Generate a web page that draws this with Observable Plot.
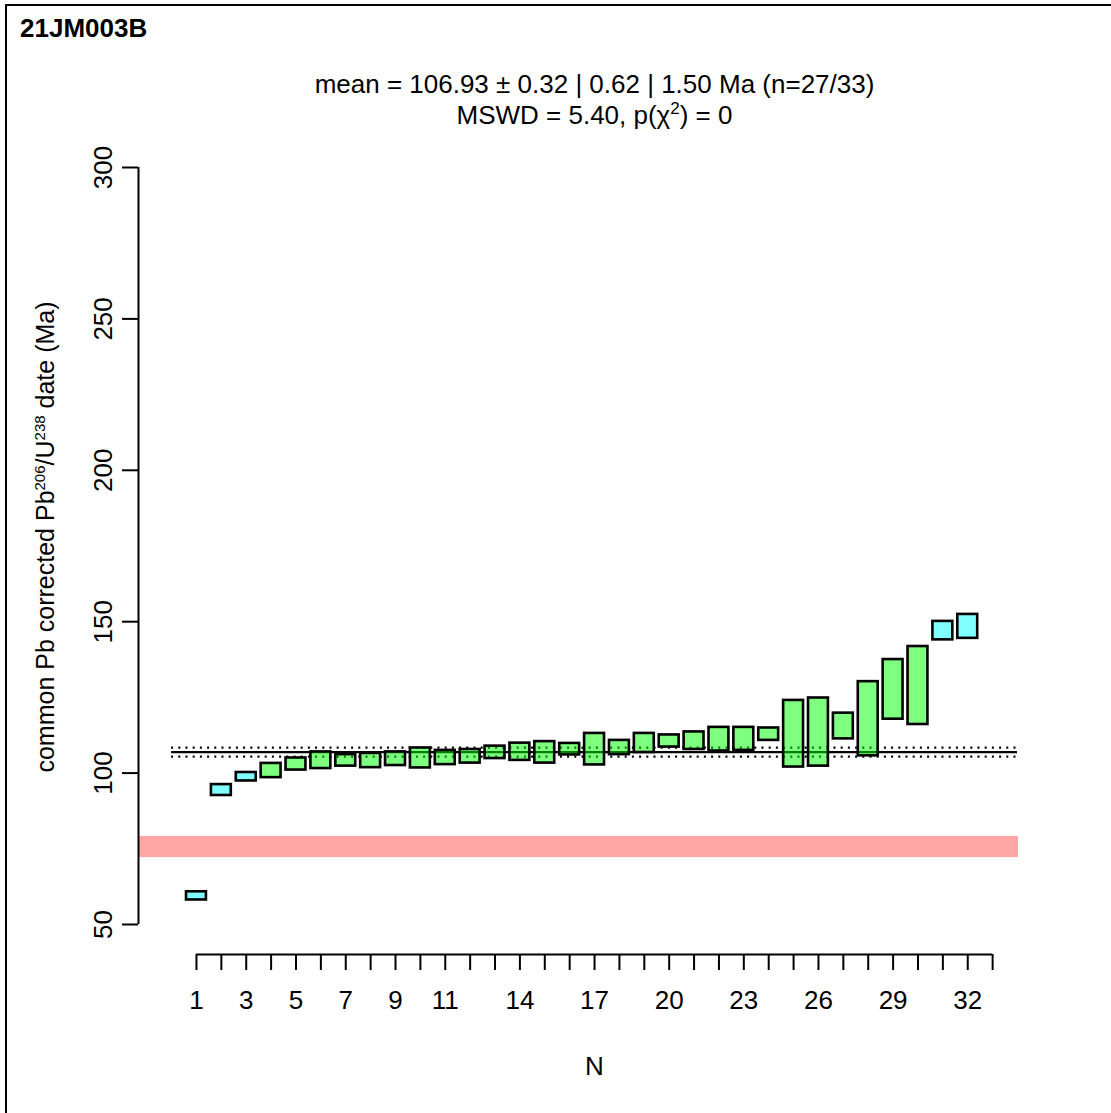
<!DOCTYPE html>
<html><head><meta charset="utf-8">
<script src="https://cdn.jsdelivr.net/npm/d3@7"></script>
<script src="https://cdn.jsdelivr.net/npm/@observablehq/plot@0.6"></script>
<style>body{margin:0;background:#fff} #chart{position:relative;width:1111px;height:1113px}</style>
</head><body><div id="chart"></div>
<script>
const sampleName = "21JM003B";
const aliquot = [1,2,3,4,5,6,7,8,9,10,11,12,13,14,15,16,17,18,19,20,21,22,23,24,25,26,27,28,29,30,31,32];
const dateLow  = [58.1, 92.6, 97.4, 98.5, 101.0, 101.5, 102.3, 101.8, 102.5, 101.7, 102.8, 103.3, 104.8, 104.2, 103.3, 106.0, 102.7, 106.1, 106.8, 108.6, 107.8, 107.3, 107.5, 110.8, 102.0, 102.3, 111.3, 105.7, 117.8, 116.05, 144.0, 144.5];
const dateHigh = [60.8, 96.2, 100.2, 103.2, 105.0, 107.0, 106.1, 106.5, 107.0, 108.3, 107.5, 107.8, 108.9, 109.9, 110.4, 109.8, 113.1, 110.8, 113.1, 112.6, 113.6, 115.1, 115.1, 114.9, 124.0, 124.8, 119.8, 130.2, 137.5, 141.8, 150.1, 152.4];
const rejected = [1, 2, 3, 31, 32];
const meanAge = 106.93;
const meanErr = 1.50;
const meanSpan = [0, 34];
const bandLow = [72.1];
const bandHigh = [79.1];
const xTicks = [1,2,3,4,5,6,7,8,9,10,11,12,13,14,15,16,17,18,19,20,21,22,23,24,25,26,27,28,29,30,31,32,33];
const xTickLabels = [1,3,5,7,9,11,14,17,20,23,26,29,32];
const yTicks = [50, 100, 150, 200, 250, 300];
const titleLine1 = "mean = 106.93 \u00B1 0.32 | 0.62 | 1.50 Ma (n=27/33)";
const xTitle = "N";

const rows = aliquot.map((n, i) => ({n, lo: dateLow[i], hi: dateHigh[i], fill: rejected.includes(n) ? "#00ffff" : "#00ff00"}));
const band = bandLow.map((lo, i) => ({lo, hi: bandHigh[i]}));
const xDomain = [-1.33, 34.04];
const yDomain = [40.09, 300];
const font = "'Liberation Sans', Arial, Helvetica, sans-serif";

const plot = Plot.plot({
  width: 1111, height: 1113,
  marginLeft: 138, marginRight: 93, marginTop: 167, marginBottom: 159,
  style: {fontFamily: font, fontSize: "26px", background: "white", color: "black", overflow: "visible"},
  x: {domain: xDomain, axis: null},
  y: {domain: yDomain, axis: null},
  color: {type: "identity"},
  marks: [
    Plot.rect(band, {y1: "lo", y2: "hi", fill: "#ffa6a6"}),
    Plot.ruleY([meanAge], {x1: meanSpan[0], x2: meanSpan[1], stroke: "black", strokeWidth: 2.2}),
    Plot.ruleY([meanAge - meanErr, meanAge + meanErr], {x1: meanSpan[0], x2: meanSpan[1], stroke: "black", strokeWidth: 2.2, strokeDasharray: "2,5.2"}),
    Plot.rect(rows, {x1: d => d.n - 0.4, x2: d => d.n + 0.4, y1: "lo", y2: "hi", fill: "fill", fillOpacity: 0.5, stroke: "black", strokeWidth: 2.6}),
    Plot.ruleY([yDomain[0]], {x1: xTicks[0], x2: xTicks[xTicks.length - 1], stroke: "black", strokeWidth: 2}),
    Plot.axisX(xTicks, {anchor: "bottom", tickSize: 16, tickPadding: 20, strokeWidth: 2, label: null, fontSize: 26,
      tickFormat: d => xTickLabels.includes(d) ? String(d) : ""}),
    Plot.ruleX([xDomain[0]], {y1: yTicks[0], y2: yTicks[yTicks.length - 1], stroke: "black", strokeWidth: 2}),
    Plot.axisY(yTicks, {anchor: "left", tickSize: 16, tickPadding: 11, tickRotate: -90, strokeWidth: 2, label: null, fontSize: 26})
  ]
});
document.getElementById("chart").appendChild(plot);

const svg = d3.select(plot);
const g = svg.append("g").attr("font-family", font).attr("fill", "black").attr("text-anchor", "start");
// figure border (left and top)
g.append("line").attr("x1", 6).attr("x2", 6).attr("y1", 4).attr("y2", 1113).attr("stroke", "black").attr("stroke-width", 2);
g.append("line").attr("x1", 5).attr("x2", 1111).attr("y1", 5).attr("y2", 5).attr("stroke", "black").attr("stroke-width", 2);
// sample name
g.append("text").attr("x", 20).attr("y", 37).attr("font-size", 26).attr("font-weight", "bold").attr("text-anchor", "start").text(sampleName);
// title
g.append("text").attr("x", 594.5).attr("y", 93).attr("font-size", 26).attr("text-anchor", "middle").text(titleLine1);
const t2 = g.append("text").attr("x", 594.5).attr("y", 124).attr("font-size", 26).attr("text-anchor", "middle");
t2.append("tspan").text("MSWD = 5.40, p(\u03C7");
t2.append("tspan").attr("dy", -10).attr("font-size", 17).text("2");
t2.append("tspan").attr("dy", 10).text(") = 0");
// x title
g.append("text").attr("x", 594.5).attr("y", 1075).attr("font-size", 26).attr("text-anchor", "middle").text(xTitle);
// y title
const yt = g.append("text").attr("transform", "translate(54,537) rotate(-90)").attr("font-size", 25).attr("text-anchor", "middle");
yt.append("tspan").text("common Pb corrected Pb");
yt.append("tspan").attr("dy", -9).attr("font-size", 15).text("206");
yt.append("tspan").attr("dy", 9).text("/U");
yt.append("tspan").attr("dy", -9).attr("font-size", 15).text("238");
yt.append("tspan").attr("dy", 9).text(" date (Ma)");
</script></body></html>
